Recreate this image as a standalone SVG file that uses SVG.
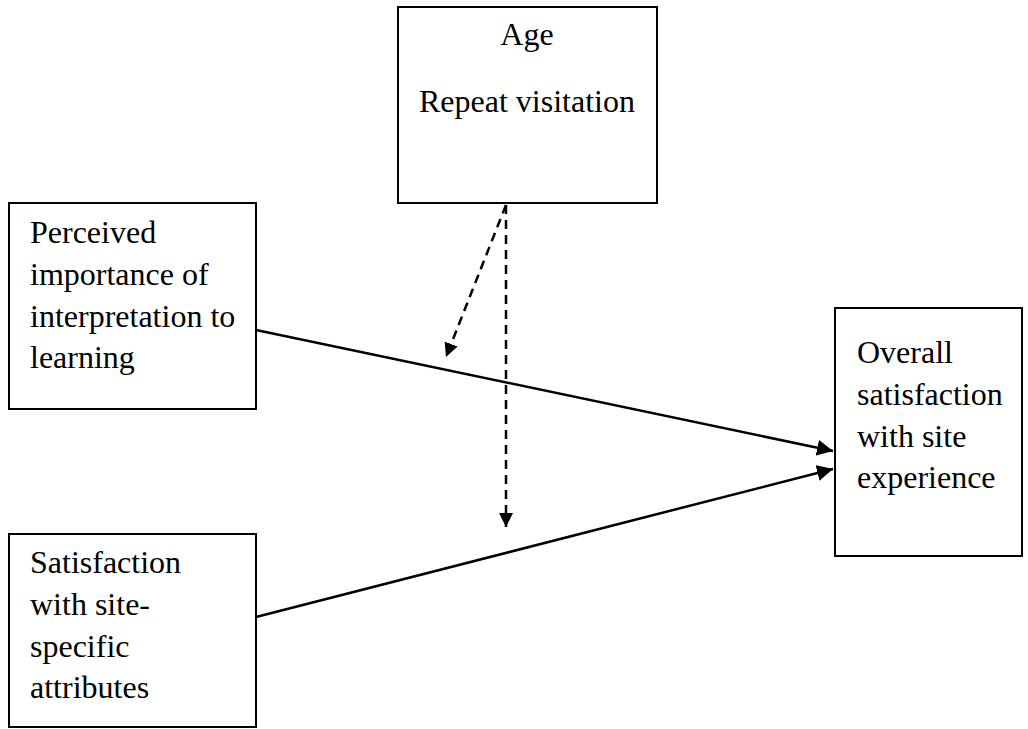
<svg xmlns="http://www.w3.org/2000/svg" width="1028" height="729" viewBox="0 0 1028 729">
<style>
.box{fill:#fff;stroke:#000;stroke-width:2}
.t{font-family:"Liberation Serif","Times New Roman",serif;font-size:32px;fill:#000}
.ln{stroke:#000;stroke-width:2.5;fill:none}
.dash{stroke:#000;stroke-width:2.5;fill:none;stroke-dasharray:9,6}
</style>
<defs>
<marker id="ah" viewBox="0 0 10 10" refX="10" refY="5" markerWidth="14" markerHeight="14" markerUnits="userSpaceOnUse" orient="auto"><path d="M0,0 L10,5 L0,10 z" fill="#000"/></marker>
<marker id="ah2" viewBox="0 0 10 10" refX="10" refY="5" markerWidth="16" markerHeight="16" markerUnits="userSpaceOnUse" orient="auto"><path d="M0,0 L10,5 L0,10 z" fill="#000"/></marker>
</defs>
<rect width="1028" height="729" fill="#fff"/>
<g id="node-moderators">
<rect class="box" x="398" y="7" width="259" height="196"/>
<text class="t" x="527" y="45" text-anchor="middle">Age</text>
<text class="t" x="527" y="112" text-anchor="middle">Repeat visitation</text>
</g>
<g id="node-importance">
<rect class="box" x="9" y="203" width="247" height="206"/>
<text class="t" x="30" y="243">Perceived</text>
<text class="t" x="30" y="285">importance of</text>
<text class="t" x="30" y="327">interpretation to</text>
<text class="t" x="30" y="368">learning</text>
</g>
<g id="node-site-attributes">
<rect class="box" x="9" y="534" width="247" height="193"/>
<text class="t" x="30" y="573">Satisfaction</text>
<text class="t" x="30" y="615">with site-</text>
<text class="t" x="30" y="657">specific</text>
<text class="t" x="30" y="698">attributes</text>
</g>
<g id="node-overall">
<rect class="box" x="835" y="308" width="187" height="248"/>
<text class="t" x="857" y="363">Overall</text>
<text class="t" x="857" y="405">satisfaction</text>
<text class="t" x="857" y="447">with site</text>
<text class="t" x="857" y="488">experience</text>
</g>
<g id="connectors">
<line class="ln" x1="256" y1="330" x2="833" y2="451" marker-end="url(#ah2)"/>
<line class="ln" x1="256" y1="617" x2="833" y2="469" marker-end="url(#ah2)"/>
<line class="dash" x1="506" y1="205" x2="506" y2="527" marker-end="url(#ah)"/>
<line class="dash" x1="506" y1="205" x2="446" y2="357" marker-end="url(#ah)"/>
</g>
</svg>
